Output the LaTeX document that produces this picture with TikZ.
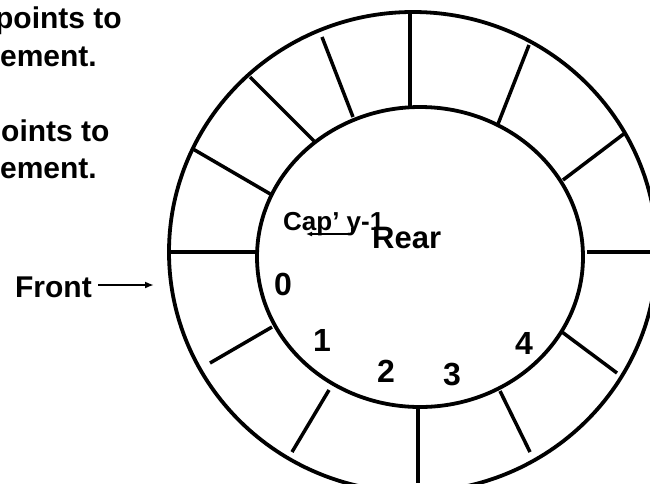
\documentclass[tikz,border=0pt]{standalone}
\usepackage{fontspec}
\setmainfont{Liberation Sans}
\usetikzlibrary{arrows.meta}
\begin{document}
\begin{tikzpicture}[x=1pt,y=-1pt,
  ring/.style={line width=3.8pt},
  spoke/.style={line width=3.5pt},
  big/.style={font=\fontsize{30}{36}\selectfont\bfseries, inner sep=0pt},
  digit/.style={font=\fontsize{32}{38}\selectfont\bfseries, inner sep=0pt},
  mid/.style={font=\fontsize{26}{30}\selectfont\bfseries, inner sep=0pt},
  thinarrow/.style={line width=2pt,-{Latex[length=9pt,width=7pt]}},
  smallarrow/.style={line width=1.4pt,-{Latex[length=6pt,width=5pt]}}]
\useasboundingbox (0,0) rectangle (650,483);
\clip (0,0) rectangle (650,483);
% ring
\draw[ring] (413,252) ellipse [x radius=244, y radius=240];
\draw[ring] (420,257) ellipse [x radius=163, y radius=150];
% spokes
\foreach \a/\b/\c/\d in {410/13/410/107, 322/37/353/117, 250/77/314/141,
  193/149/272/195, 170/252/257/252, 210/363/272/327, 292/452/329/390,
  418/406/418/483, 530/452/500/391, 617/373/562/332, 587/252/650/252,
  625/133/563/180, 529/45/498/124}
  \draw[spoke] (\a,\b) -- (\c,\d);
% top-left text
\node[big, anchor=base east] (t1) at (122,28) {points to};
\node[big, anchor=base east] (t2) at (97,66) {ement.};
\node[big, anchor=base west] (t3) at (1,141) {oints to};
\node[big, anchor=base east] (t4) at (97,178) {ement.};
% Front
\node[big, anchor=base east] (front) at (92,297) {Front};
\coordinate (fronttip) at (154,285);
\draw[thinarrow] (front.east |- fronttip) ++(6,0) -- (fronttip);
% Cap'y-1 and Rear
\node[mid, anchor=base west] (cap) at (283,230) {Cap’ y-1};
\node[big, font=\fontsize{31}{36}\selectfont\bfseries, anchor=base west] (rear) at (372,248) {Rear};
\coordinate (capR) at (352,234);
\coordinate (capL) at (306,234);
\draw[line width=1.4pt] (352,228) -- (capR);
\draw[smallarrow] (capR) -- (capL);
% indices
\node[digit, anchor=base] (i0) at (283,295) {0};
\node[digit, anchor=base] (i1) at (322,351) {1};
\node[digit, anchor=base] (i2) at (386,382) {2};
\node[digit, anchor=base] (i3) at (452,385) {3};
\node[digit, anchor=base] (i4) at (524,354) {4};
\end{tikzpicture}
\end{document}
